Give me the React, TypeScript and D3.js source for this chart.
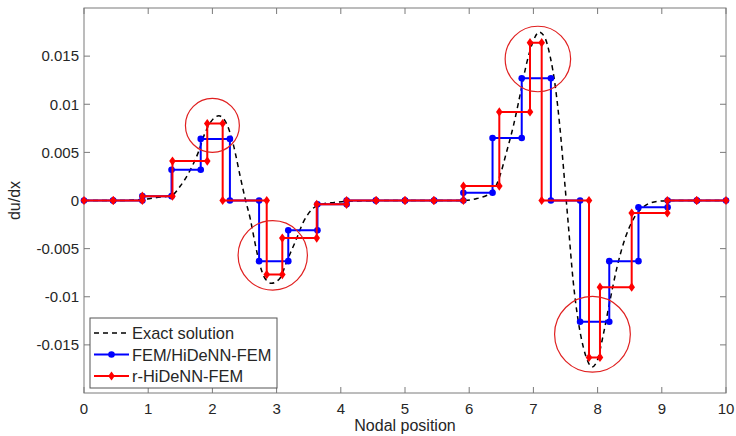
import React, { useEffect, useRef } from 'react';
import * as d3 from 'd3';

// axis ticks
const xTicks = [0, 1, 2, 3, 4, 5, 6, 7, 8, 9, 10];
const yTicks = [-0.015, -0.01, -0.005, 0, 0.005, 0.01, 0.015];
const yTickLabels = ['-0.015', '-0.01', '-0.005', '0', '0.005', '0.01', '0.015'];

// exact du/dx
const exactX = [0, 0.5, 0.9, 1.13, 1.37, 1.5, 1.65, 1.78, 1.89, 1.99, 2.1, 2.22, 2.33, 2.43, 2.51, 2.59, 2.66, 2.74, 2.82, 2.92, 3.05, 3.16, 3.29, 3.42, 3.57, 3.7, 3.9, 4.2, 5, 5.5, 5.91, 6.12, 6.36, 6.48, 6.58, 6.69, 6.79, 6.9, 7.0, 7.09, 7.18, 7.26, 7.34, 7.41, 7.49, 7.54, 7.62, 7.7, 7.78, 7.86, 7.91, 7.99, 8.09, 8.19, 8.3, 8.43, 8.56, 8.71, 8.92, 9.2, 9.6, 10];
const exactV = [0, 0, 0.0001, 0.0003, 0.00055, 0.0015, 0.0031, 0.005, 0.0071, 0.0083, 0.0088, 0.008, 0.0057, 0.0026, 0.0002, -0.0019, -0.0043, -0.0067, -0.0081, -0.0086, -0.0081, -0.0063, -0.0043, -0.0022, -0.0008, -0.0004, -0.0002, -0.00005, 0, 0, 0, 0.0002, 0.0009, 0.0026, 0.005, 0.0078, 0.0109, 0.0144, 0.0166, 0.0175, 0.0169, 0.015, 0.0119, 0.0078, 0.0017, -0.0022, -0.0084, -0.0126, -0.0153, -0.0169, -0.0173, -0.0167, -0.0139, -0.0105, -0.007, -0.0039, -0.0019, -0.0007, -0.0001, 0, 0, 0];

// FEM/HiDeNN-FEM: uniform nodes, constant slope per element
const femNodes = [0, 0.4545, 0.9091, 1.3636, 1.8182, 2.2727, 2.7273, 3.1818, 3.6364, 4.0909, 4.5455, 5.0, 5.4545, 5.9091, 6.3636, 6.8182, 7.2727, 7.7273, 8.1818, 8.6364, 9.0909, 9.5455, 10];
const femSlopes = [0, 0, 0.00045, 0.0032, 0.0064, 0, -0.0063, -0.0031, -0.0004, 0, 0, 0, 0, 0.0008, 0.0065, 0.0127, 0, -0.0126, -0.0063, -0.0007, 0, 0];

// r-HiDeNN-FEM: moved nodes
const rNodes = [0, 0.455, 0.909, 1.378, 1.92, 2.16, 2.846, 3.089, 3.625, 4.09, 4.55, 5.0, 5.45, 5.91, 6.469, 6.947, 7.129, 7.866, 8.037, 8.531, 9.086, 9.544, 10];
const rSlopes = [0, 0, 0.00045, 0.0041, 0.008, 0, -0.0077, -0.0039, -0.0004, 0, 0, 0, 0, 0.0015, 0.0092, 0.0164, 0, -0.0163, -0.009, -0.0013, 0, 0];

// highlight circles (centre in data units, radius in x units)
const circleX = [2.0, 2.94, 7.07, 7.92];
const circleY = [0.0078, -0.0057, 0.0147, -0.0139];
const circleR = [0.42, 0.54, 0.51, 0.59];

const legendNames = ['Exact solution', 'FEM/HiDeNN-FEM', 'r-HiDeNN-FEM'];

const FONT = '"Liberation Sans", Arial, Helvetica, sans-serif';
const diamond = 'M0,-4.6L3.3,0L0,4.6L-3.3,0Z';

const stepPoints = (nodes: number[], slopes: number[]) => {
    const pts: [number, number][] = [];
    slopes.forEach((s, i) => {
        pts.push([nodes[i], s]);
        pts.push([nodes[i + 1], s]);
    });
    return pts;
};

const App = () => {
    const svgRef = useRef<SVGSVGElement>(null);

    useEffect(() => {
        const width = 736;
        const height = 436;
        const left = 84, right = 726, top = 8, bottom = 393;

        const svg = d3.select(svgRef.current)
            .attr('width', width)
            .attr('height', height);
        svg.selectAll('*').remove();

        const x = d3.scaleLinear().domain([0, 10]).range([left, right]);
        const y = d3.scaleLinear().domain([-0.02, 0.02]).range([bottom, top]);

        svg.append('rect')
            .attr('width', width).attr('height', height).attr('fill', '#fff');

        // axes box
        const axisColor = '#7a7a7a';
        svg.append('rect')
            .attr('x', left).attr('y', top)
            .attr('width', right - left).attr('height', bottom - top)
            .attr('fill', 'none').attr('stroke', axisColor).attr('stroke-width', 1);

        const tickLen = 6;
        xTicks.forEach(t => {
            svg.append('line').attr('x1', x(t)).attr('x2', x(t))
                .attr('y1', bottom).attr('y2', bottom - tickLen).attr('stroke', axisColor);
            svg.append('line').attr('x1', x(t)).attr('x2', x(t))
                .attr('y1', top).attr('y2', top + tickLen).attr('stroke', axisColor);
            svg.append('text')
                .attr('x', x(t)).attr('y', bottom + 21)
                .attr('text-anchor', 'middle')
                .attr('font-family', FONT).attr('font-size', 15)
                .attr('fill', '#262626')
                .text(t);
        });
        yTicks.forEach((t, i) => {
            svg.append('line').attr('x1', left).attr('x2', left + tickLen)
                .attr('y1', y(t)).attr('y2', y(t)).attr('stroke', axisColor);
            svg.append('line').attr('x1', right).attr('x2', right - tickLen)
                .attr('y1', y(t)).attr('y2', y(t)).attr('stroke', axisColor);
            svg.append('text')
                .attr('x', left - 5).attr('y', y(t) + 5.3)
                .attr('text-anchor', 'end')
                .attr('font-family', FONT).attr('font-size', 15)
                .attr('fill', '#262626')
                .text(yTickLabels[i]);
        });

        // axis labels
        svg.append('text')
            .attr('x', (left + right) / 2).attr('y', 431)
            .attr('text-anchor', 'middle')
            .attr('font-family', FONT).attr('font-size', 16)
            .attr('fill', '#262626')
            .text('Nodal position');
        svg.append('text')
            .attr('transform', `translate(19.5, ${(top + bottom) / 2}) rotate(-90)`)
            .attr('text-anchor', 'middle')
            .attr('font-family', FONT).attr('font-size', 16)
            .attr('fill', '#262626')
            .text('du/dx');

        // exact solution
        const exact = exactX.map((v, i) => [v, exactV[i]] as [number, number]);
        const smooth = d3.line<[number, number]>()
            .x(d => x(d[0])).y(d => y(d[1]))
            .curve(d3.curveMonotoneX);
        svg.append('path')
            .attr('d', smooth(exact))
            .attr('fill', 'none')
            .attr('stroke', '#000')
            .attr('stroke-width', 1.5)
            .attr('stroke-dasharray', '5,4');

        const straight = d3.line<[number, number]>()
            .x(d => x(d[0])).y(d => y(d[1]));

        // FEM
        const fem = stepPoints(femNodes, femSlopes);
        svg.append('path')
            .attr('d', straight(fem))
            .attr('fill', 'none').attr('stroke', '#0000ff').attr('stroke-width', 2);
        svg.append('g').selectAll('circle')
            .data(fem).enter().append('circle')
            .attr('cx', d => x(d[0])).attr('cy', d => y(d[1]))
            .attr('r', 3.3).attr('fill', '#0000ff');

        // r-HiDeNN-FEM
        const rh = stepPoints(rNodes, rSlopes);
        svg.append('path')
            .attr('d', straight(rh))
            .attr('fill', 'none').attr('stroke', '#ff0000').attr('stroke-width', 2);
        svg.append('g').selectAll('path')
            .data(rh).enter().append('path')
            .attr('d', diamond)
            .attr('transform', d => `translate(${x(d[0])},${y(d[1])})`)
            .attr('fill', '#ff0000');

        // highlight circles
        circleX.forEach((cx, i) => {
            svg.append('circle')
                .attr('cx', x(cx)).attr('cy', y(circleY[i]))
                .attr('r', x(circleR[i]) - x(0))
                .attr('fill', 'none')
                .attr('stroke', '#e02020')
                .attr('stroke-width', 1.2);
        });

        // legend
        const lg = svg.append('g').attr('transform', 'translate(90, 318)');
        lg.append('rect')
            .attr('width', 187).attr('height', 70)
            .attr('fill', '#fff').attr('stroke', '#555').attr('stroke-width', 1);
        const rowY = [15, 36.5, 58];
        const colors = ['#000', '#0000ff', '#ff0000'];
        legendNames.forEach((name, i) => {
            const row = lg.append('g').attr('transform', `translate(0, ${rowY[i]})`);
            row.append('line')
                .attr('x1', 4).attr('x2', 39).attr('y1', 0).attr('y2', 0)
                .attr('stroke', colors[i])
                .attr('stroke-width', i === 0 ? 1.5 : 2)
                .attr('stroke-dasharray', i === 0 ? '5,4' : null);
            if (i === 1) {
                row.append('circle').attr('cx', 21.5).attr('cy', 0).attr('r', 3.3).attr('fill', colors[i]);
            }
            if (i === 2) {
                row.append('path').attr('d', diamond)
                    .attr('transform', 'translate(21.5,0)').attr('fill', colors[i]);
            }
            row.append('text')
                .attr('x', 42).attr('y', 6)
                .attr('font-family', FONT).attr('font-size', 16.4)
                .attr('fill', '#262626')
                .text(name);
        });
    }, []);

    return (
        <svg ref={svgRef} style={{ position: 'absolute', left: 0, top: 0, display: 'block' }}></svg>
    );
};

export default App;
